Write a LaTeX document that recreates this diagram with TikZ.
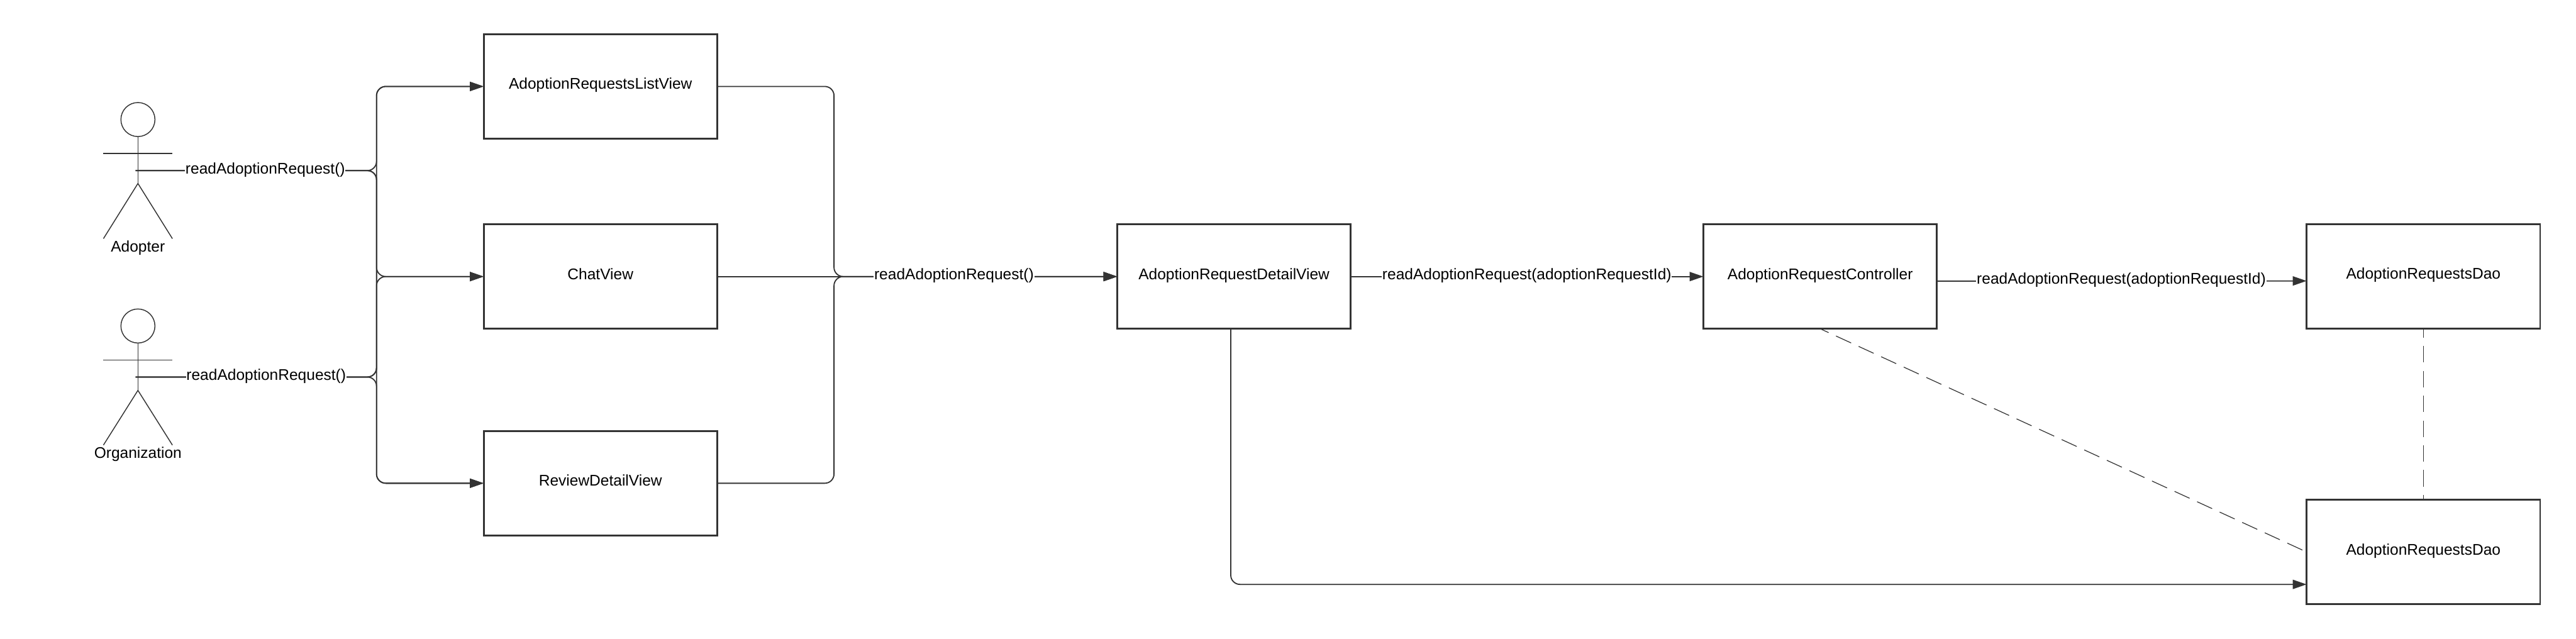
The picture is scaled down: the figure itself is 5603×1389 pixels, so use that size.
\documentclass[tikz,border=0pt]{standalone}
\usepackage{fontspec}
\setmainfont{Liberation Sans}
\usetikzlibrary{arrows.meta}

\tikzset{
  wire/.style={draw=black!80, line width=0.25mm},
  call/.style={wire, rounded corners=2mm, -{Triangle[length=3mm,width=2mm]}},
  ret/.style={draw=black!80, line width=0.17mm, dash pattern=on 3.6mm off 1.8mm, dash phase=1.6mm},
  viewbox/.style={draw=black!80, line width=0.4mm, fill=white, minimum width=50.8mm, minimum height=22.7mm, outer sep=0pt, inner sep=0pt, text height=2.4mm, text depth=1.2mm, font=\fontsize{9.55}{11.4}\selectfont},
  msg/.style={fill=white, inner xsep=0.3pt, inner ysep=1pt, font=\fontsize{9.55}{11.4}\selectfont},
  actorname/.style={inner sep=0pt, font=\fontsize{9.55}{11.4}\selectfont},
  actorhead/.style={circle, draw=black!80, line width=0.2mm, minimum size=7.4mm, inner sep=0pt, outer sep=0pt},
}

\begin{document}
\begin{tikzpicture}[x=0.1mm, y=-0.1mm]
\useasboundingbox (0,0) rectangle (5603,1389);
% actors
\node[actorhead] (adopterHead) at (300,260) {};
\coordinate (adopterHip) at (300,399);
\coordinate (adopterHand) at (295,371);
\draw[wire, line width=0.2mm] (adopterHead) -- (adopterHip);
\draw[wire, line width=0.2mm] (225,334) -- (375,334);
\draw[wire, line width=0.2mm] (225,519) -- (adopterHip) -- (375,519);
\node[actorname] (adopter) at (300,539) {Adopter};
\node[actorhead] (organizationHead) at (300,709) {};
\coordinate (organizationHip) at (300,849);
\coordinate (organizationHand) at (295,820);
\draw[wire, line width=0.2mm] (organizationHead) -- (organizationHip);
\draw[wire, line width=0.2mm] (225,783) -- (375,783);
\draw[wire, line width=0.2mm] (225,968) -- (organizationHip) -- (375,968);
\node[actorname] (organization) at (300,988) {Organization};
% boxes
\node[viewbox] (listView) at (1306,188) {AdoptionRequestsListView};
\node[viewbox] (chatView) at (1306,601.5) {ChatView};
\node[viewbox] (reviewView) at (1306,1051) {ReviewDetailView};
\node[viewbox] (detailView) at (2684,601.5) {AdoptionRequestDetailView};
\node[viewbox] (controller) at (3959,601.5) {AdoptionRequestController};
\node[viewbox] (daoTop) at (5271,601) {AdoptionRequestsDao};
\node[viewbox] (daoLow) at (5271,1200.5) {AdoptionRequestsDao};
% actor to views
\draw[call] (adopterHand) -- (819,371) -- (819,188) -- (listView.west);
\draw[call] (adopterHand) -- (819,371) -- (819,601.5) -- (chatView.west);
\draw[call] (adopterHand) -- (819,371) -- (819,1051) -- (reviewView.west);
\draw[call] (organizationHand) -- (819,820) -- (819,188) -- (listView.west);
\draw[call] (organizationHand) -- (819,820) -- (819,601.5) -- (chatView.west);
\draw[call] (organizationHand) -- (819,820) -- (819,1051) -- (reviewView.west);
% views to detail
\draw[call] (listView.east) -- (1814,188) -- (1814,601.5) -- (detailView.west);
\draw[call] (chatView.east) -- (detailView.west);
\draw[call] (reviewView.east) -- (1814,1051) -- (1814,601.5) -- (detailView.west);
% detail to the rest
\draw[call] (detailView.east) -- (controller.west);
\draw[call] ([yshift=-1mm]controller.east) -- ([yshift=-1mm]daoTop.west);
\draw[call] ([xshift=-0.7mm]detailView.south) |- ([yshift=-7.05mm]daoLow.west);
\draw[ret] (controller.south) -- (daoLow.west);
\draw[ret] (daoTop.south) -- (daoLow.north);
% labels
\node[msg] (adopterMsg) at (577,369.5) {readAdoptionRequest()};
\node[msg] (organizationMsg) at (579,818.5) {readAdoptionRequest()};
\node[msg] (chatMsg) at (2075,600) {readAdoptionRequest()};
\node[msg] (detailMsg) at (3321,600) {readAdoptionRequest(adoptionRequestId)};
\node[msg] (controllerMsg) at (4614,609) {readAdoptionRequest(adoptionRequestId)};
\end{tikzpicture}
\end{document}
